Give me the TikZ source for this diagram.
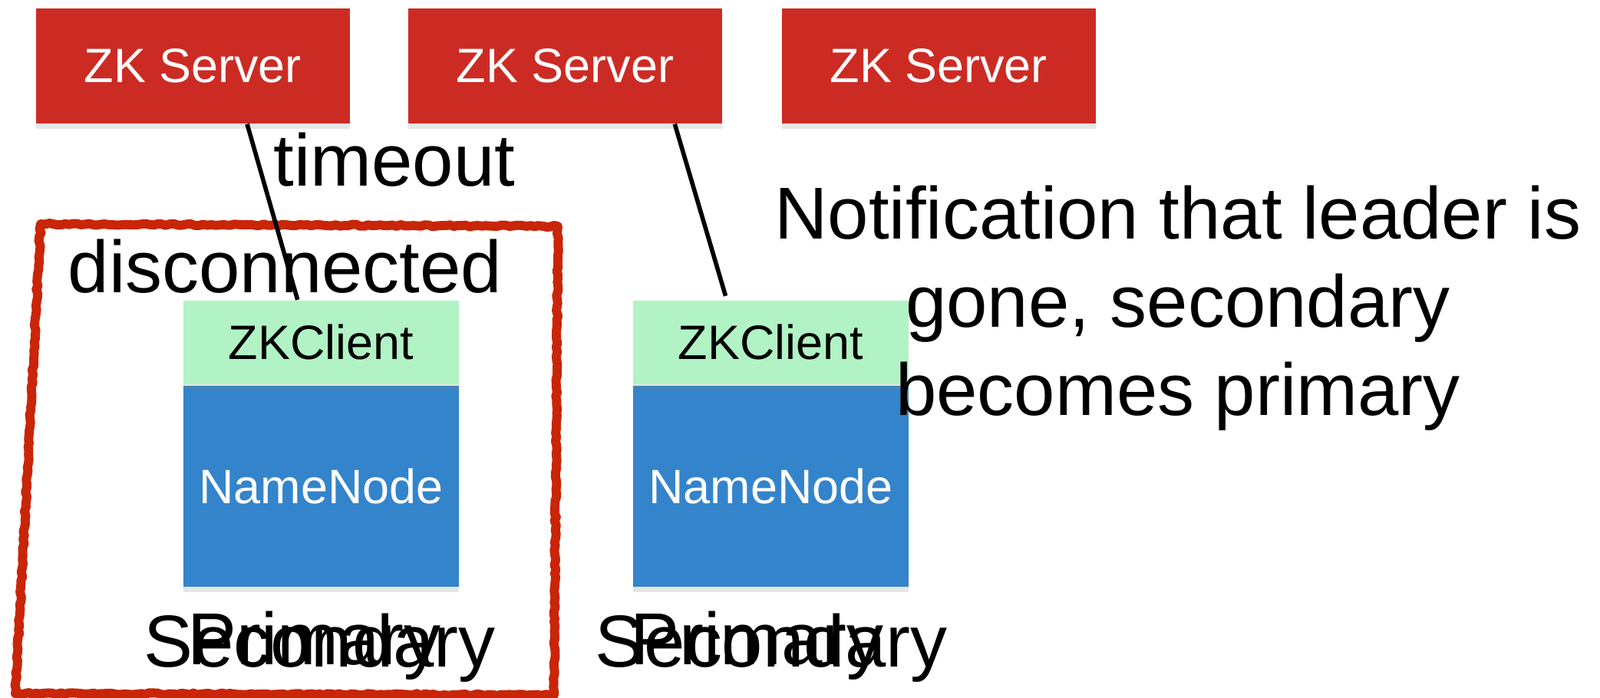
\documentclass[tikz,border=0pt]{standalone}
\usepackage{fontspec}
\setmainfont{Liberation Sans}
\usetikzlibrary{positioning,shadows,decorations.pathmorphing}
\definecolor{zkred}{RGB}{204,43,36}
\definecolor{zkgreen}{RGB}{177,243,196}
\definecolor{nnblue}{RGB}{52,132,203}
\definecolor{crayon}{RGB}{201,37,8}
\begin{document}
\begin{tikzpicture}[inner sep=0pt,
   shade/.style={drop shadow={shadow xshift=0pt, shadow yshift=-2pt, opacity=.2}},
   server/.style={shade, fill=zkred, text=white, minimum width=4.095cm, minimum height=1.504cm, font=\fontsize{17.9}{21}\selectfont},
   client/.style={shade, fill=zkgreen, minimum width=3.59cm, minimum height=1.096cm, font=\fontsize{17.9}{21}\selectfont},
   namenode/.style={shade, fill=nnblue, text=white, minimum width=3.59cm, minimum height=2.624cm, font=\fontsize{17.9}{21}\selectfont},
   big/.style={anchor=base, font=\fontsize{27.3}{32.7}\selectfont}]
   \useasboundingbox (0,0) rectangle (20.85,9.10);
   \node[server] (S1) at (2.5125,8.242) {ZK Server};
   \node[server] (S2) at (7.365,8.242) {ZK Server};
   \node[server] (S3) at (12.233,8.242) {ZK Server};
   \node[namenode] (N1) at (4.185,2.762) {NameNode};
   \node[namenode] (N2) at (10.045,2.762) {NameNode};
   \node[client, above=0pt of N1] (C1) {ZKClient};
   \node[client, above=0pt of N2] (C2) {ZKClient};
   \draw[crayon, line width=3.4pt, line join=round, decorate, decoration={random steps, segment length=1.5pt, amplitude=.35pt}]
      (0.53,6.18) -- (7.27,6.15) -- (7.22,0.04) -- (0.20,0.06) -- cycle;
   \node[big] (T) at (5.14,6.67) {timeout};
   \node[big] (D) at (3.715,5.28) {disconnected};
   \node[big, align=center] (Note) at (15.35,3.683) {Notification that leader is\\gone, secondary\\becomes primary};
   \node[big] (P1) at (4.095,0.43) {Primary};
   \node[big] (Sec1) at (4.165,0.40) {Secondary};
   \node[big] (P2) at (9.865,0.43) {Primary};
   \node[big] (Sec2) at (10.05,0.40) {Secondary};
   \draw[line width=1.6pt] (S1.-47) -- (C1.119);
   \draw[line width=1.6pt, shorten >=1.5pt] (S2.-28.5) -- (C2.136);
\end{tikzpicture}
\end{document}
